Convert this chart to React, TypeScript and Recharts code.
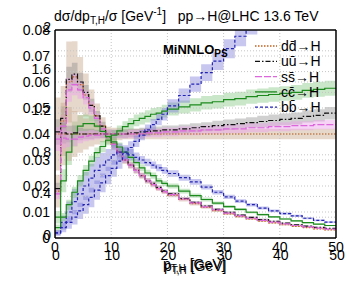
import React from 'react';
import { ComposedChart, Line, Area, XAxis, YAxis, ReferenceLine } from 'recharts';

// bin low edges (GeV): 1 GeV bins up to 20, then 2 GeV bins; last entry closes the final bin
const edges = [0, 1, 2, 3, 4, 5, 6, 7, 8, 9, 10, 11, 12, 13, 14, 15, 16, 17, 18, 19, 20,
  22, 24, 26, 28, 30, 32, 34, 36, 38, 40, 42, 44, 46, 48, 50];

// normalised distributions dσ/dpT/σ
const ddDist = [0.018, 0.045, 0.060, 0.062, 0.059, 0.055, 0.051, 0.047, 0.043, 0.039, 0.036, 0.033, 0.030, 0.028, 0.026, 0.024, 0.022, 0.0205, 0.019, 0.0178,
  0.0165, 0.0148, 0.0132, 0.0118, 0.0105, 0.0093, 0.0082, 0.0073, 0.0065, 0.0058, 0.0051, 0.0045, 0.0040, 0.0035, 0.0031];
const uuDist = [0.019, 0.046, 0.061, 0.063, 0.060, 0.056, 0.051, 0.047, 0.043, 0.039, 0.036, 0.033, 0.030, 0.028, 0.026, 0.024, 0.022, 0.021, 0.0195, 0.018,
  0.017, 0.0152, 0.0137, 0.0123, 0.011, 0.0099, 0.0088, 0.0079, 0.0071, 0.0064, 0.0057, 0.0051, 0.0046, 0.0041, 0.0037];
const ssDist = [0.017, 0.043, 0.057, 0.059, 0.057, 0.054, 0.050, 0.046, 0.042, 0.039, 0.036, 0.033, 0.030, 0.028, 0.026, 0.024, 0.022, 0.0205, 0.019, 0.0178,
  0.0167, 0.015, 0.0135, 0.012, 0.0108, 0.0096, 0.0085, 0.0076, 0.0068, 0.0061, 0.0054, 0.0048, 0.0043, 0.0038, 0.0034];
const ccDist = [0.008, 0.022, 0.033, 0.040, 0.043, 0.044, 0.044, 0.043, 0.041, 0.039, 0.037, 0.035, 0.033, 0.031, 0.029, 0.027, 0.025, 0.024, 0.022, 0.021,
  0.020, 0.018, 0.0163, 0.0148, 0.0134, 0.0121, 0.011, 0.0099, 0.009, 0.0081, 0.0073, 0.0066, 0.0059, 0.0053, 0.0048];
const bbDist = [0.002, 0.006, 0.010, 0.014, 0.017, 0.020, 0.023, 0.026, 0.028, 0.030, 0.032, 0.033, 0.033, 0.032, 0.031, 0.030, 0.029, 0.028, 0.027, 0.026,
  0.0248, 0.0232, 0.0216, 0.0196, 0.0176, 0.0158, 0.0142, 0.0128, 0.0115, 0.0104, 0.0094, 0.0085, 0.0076, 0.0068, 0.0061];

// ratios to dd̄ (second scale 0..2)
const ddRatio = [1, 1, 1, 1, 1, 1, 1, 1, 1, 1, 1, 1, 1, 1, 1, 1, 1, 1, 1, 1,
  1, 1, 1, 1, 1, 1, 1, 1, 1, 1, 1, 1, 1, 1, 1];
const uuRatio = [1.02, 1.01, 1.0, 1.01, 1.0, 1.0, 1.0, 1.0, 1.0, 1.0, 1.0, 1.0, 1.0, 1.01, 1.01, 1.02, 1.02, 1.03, 1.03, 1.04,
  1.04, 1.05, 1.06, 1.07, 1.08, 1.09, 1.1, 1.11, 1.12, 1.13, 1.14, 1.15, 1.17, 1.18, 1.2];
const ssRatio = [0.95, 0.96, 0.95, 0.95, 0.97, 0.98, 0.99, 0.99, 1.0, 1.0, 1.0, 1.0, 1.0, 1.0, 1.0, 1.0, 1.01, 1.01, 1.01, 1.02,
  1.02, 1.03, 1.03, 1.04, 1.04, 1.05, 1.05, 1.06, 1.06, 1.07, 1.07, 1.08, 1.08, 1.09, 1.09];
const ccRatio = [0.1, 0.2, 0.32, 0.44, 0.55, 0.65, 0.74, 0.82, 0.88, 0.94, 0.99, 1.03, 1.07, 1.1, 1.13, 1.15, 1.17, 1.19, 1.2, 1.22,
  1.24, 1.26, 1.28, 1.3, 1.31, 1.33, 1.34, 1.36, 1.37, 1.38, 1.39, 1.4, 1.42, 1.43, 1.44];
const bbRatio = [0.05, 0.1, 0.15, 0.2, 0.26, 0.32, 0.39, 0.46, 0.53, 0.6, 0.67, 0.74, 0.81, 0.87, 0.93, 0.99, 1.04, 1.09, 1.14, 1.19,
  1.27, 1.37, 1.48, 1.59, 1.7, 1.82, 1.94, 2.06, 2.18, null, null, null, null, null, null];

// relative size of the uncertainty bands
const ddErr = [0.35, 0.3, 0.26, 0.22, 0.18, 0.15, 0.12, 0.1, 0.08, 0.07, 0.06, 0.06, 0.05, 0.05, 0.05, 0.05, 0.05, 0.05, 0.05, 0.05,
  0.05, 0.05, 0.05, 0.05, 0.05, 0.05, 0.05, 0.05, 0.05, 0.05, 0.05, 0.05, 0.05, 0.05, 0.05];
const uuErr = [0.12, 0.1, 0.08, 0.07, 0.06, 0.05, 0.05, 0.04, 0.04, 0.04, 0.04, 0.04, 0.04, 0.04, 0.04, 0.04, 0.04, 0.04, 0.04, 0.04,
  0.04, 0.04, 0.04, 0.04, 0.045, 0.045, 0.045, 0.045, 0.05, 0.05, 0.05, 0.05, 0.05, 0.05, 0.05];
const ssErr = [0.12, 0.1, 0.08, 0.07, 0.06, 0.05, 0.05, 0.04, 0.04, 0.04, 0.04, 0.04, 0.04, 0.04, 0.04, 0.04, 0.04, 0.04, 0.04, 0.04,
  0.04, 0.04, 0.04, 0.04, 0.04, 0.04, 0.04, 0.04, 0.04, 0.04, 0.04, 0.04, 0.04, 0.04, 0.04];
const ccErr = [0.3, 0.2, 0.15, 0.12, 0.1, 0.08, 0.07, 0.06, 0.06, 0.05, 0.05, 0.05, 0.05, 0.05, 0.05, 0.05, 0.05, 0.05, 0.05, 0.05,
  0.05, 0.05, 0.05, 0.05, 0.05, 0.05, 0.05, 0.05, 0.05, 0.05, 0.05, 0.05, 0.05, 0.05, 0.05];
const bbErr = [0.5, 0.45, 0.4, 0.35, 0.3, 0.27, 0.24, 0.2, 0.17, 0.14, 0.12, 0.1, 0.08, 0.07, 0.06, 0.05, 0.05, 0.05, 0.05, 0.05,
  0.05, 0.05, 0.05, 0.05, 0.05, 0.05, 0.05, 0.05, 0.05, 0.05, 0.05, 0.05, 0.05, 0.05, 0.05];

const distTicks = [0, 0.01, 0.02, 0.03, 0.04, 0.05, 0.06, 0.07, 0.08];
const ratioTicks = [0, 0.4, 0.8, 1.2, 1.6, 2];
const xTicks = [0, 10, 20, 30, 40, 50];
const xMinor = [0, 2, 4, 6, 8, 10, 12, 14, 16, 18, 20, 22, 24, 26, 28, 30, 32, 34, 36, 38, 40, 42, 44, 46, 48, 50];
const distMinor = [0, 0.002, 0.004, 0.006, 0.008, 0.01, 0.012, 0.014, 0.016, 0.018, 0.02, 0.022, 0.024, 0.026, 0.028, 0.03,
  0.032, 0.034, 0.036, 0.038, 0.04, 0.042, 0.044, 0.046, 0.048, 0.05, 0.052, 0.054, 0.056, 0.058, 0.06, 0.062, 0.064,
  0.066, 0.068, 0.07, 0.072, 0.074, 0.076, 0.078, 0.08];
const ratioMinor = [0, 0.1, 0.2, 0.3, 0.4, 0.5, 0.6, 0.7, 0.8, 0.9, 1, 1.1, 1.2, 1.3, 1.4, 1.5, 1.6, 1.7, 1.8, 1.9, 2];
const distGrid = [0.01, 0.02, 0.03, 0.04, 0.05, 0.06, 0.07];
const ratioGrid = [0.2, 0.4, 0.6, 0.8, 1.0, 1.2, 1.4, 1.6, 1.8];
const xGrid = [10, 20, 30, 40];

const series = [
  { key: 'dd', label: 'dd̄→H', dist: ddDist, ratio: ddRatio, err: ddErr, color: '#c0621e', dash: '1.5 1.5', band: '#c9a98e', op: 0.45 },
  { key: 'uu', label: 'uū→H', dist: uuDist, ratio: uuRatio, err: uuErr, color: '#111111', dash: '5 2 1.5 2', band: '#8a8a8a', op: 0.4 },
  { key: 'ss', label: 'ss̄→H', dist: ssDist, ratio: ssRatio, err: ssErr, color: '#dd66dd', dash: '7 2', band: '#eaa0ea', op: 0.45 },
  { key: 'cc', label: 'cc̄→H', dist: ccDist, ratio: ccRatio, err: ccErr, color: '#1d8a1d', dash: undefined, band: '#66bb66', op: 0.35 },
  { key: 'bb', label: 'bb̄→H', dist: bbDist, ratio: bbRatio, err: bbErr, color: '#2424b4', dash: '3 2', band: '#7474d8', op: 0.4 },
];

const rows = edges.map((x, i) => {
  const b = Math.min(i, edges.length - 2);
  const row: any = { x };
  series.forEach((s) => {
    const d = s.dist[b];
    const r = s.ratio[b];
    const e = s.err[b];
    row[s.key + 'D'] = d;
    row[s.key + 'R'] = r;
    row[s.key + 'DB'] = [d * (1 - e), d * (1 + e)];
    row[s.key + 'RB'] = r == null ? null : [r * (1 - e), r * (1 + e)];
  });
  return row;
});

const font = '"Liberation Sans", Arial, sans-serif';
const tickStyle = { fontSize: 14, fill: '#000', fontFamily: font };
const gridStroke = { stroke: '#c4c4c4', strokeDasharray: '1 2', strokeWidth: 1 };
const thin = 0.01; // axes that only carry tick marks take no room
const black = { stroke: '#000' };
const frame = { stroke: '#000', strokeWidth: 1.5 };

const App: React.FC = () => {
  return (
    <div style={{ position: 'absolute', left: 0, top: 0, width: 357, height: 282, background: '#fff', fontFamily: font }}>
      <ComposedChart width={357} height={282} data={rows} margin={{ top: 30, right: 21, left: 55, bottom: 16 }}>
        <XAxis xAxisId="x" type="number" dataKey="x" domain={[0, 50]} ticks={xTicks} orientation="bottom" height={8} tickSize={4} tickMargin={0} tickLine={false} axisLine={frame} tick={tickStyle} />
        <XAxis xAxisId="x2" type="number" dataKey="x" domain={[0, 50]} ticks={xTicks} orientation="bottom" height={20} tickSize={4} tickMargin={0} tickLine={false} axisLine={false} tick={{ ...tickStyle, dx: 1 }} />
        <XAxis xAxisId="bMin" type="number" dataKey="x" domain={[0, 50]} ticks={xMinor} orientation="bottom" mirror height={thin} tick={false} tickSize={3} axisLine={false} tickLine={black} />
        <XAxis xAxisId="bMaj" type="number" dataKey="x" domain={[0, 50]} ticks={xTicks} orientation="bottom" mirror height={thin} tick={false} tickSize={6} axisLine={false} tickLine={black} />
        <XAxis xAxisId="tMin" type="number" dataKey="x" domain={[0, 50]} ticks={xMinor} orientation="top" mirror height={thin} tick={false} tickSize={3} axisLine={frame} tickLine={black} />
        <XAxis xAxisId="tMaj" type="number" dataKey="x" domain={[0, 50]} ticks={xTicks} orientation="top" mirror height={thin} tick={false} tickSize={6} axisLine={false} tickLine={black} />

        <YAxis yAxisId="d" type="number" domain={[0, 0.08]} ticks={distTicks} orientation="left" width={thin} tickSize={3} tickMargin={2} tickLine={false} axisLine={frame} tick={tickStyle} tickFormatter={(v: number) => (v === 0 ? '0' : v.toFixed(2))} allowDataOverflow />
        <YAxis yAxisId="r" type="number" domain={[0, 2]} ticks={ratioTicks} orientation="left" width={thin} tickSize={2} tickMargin={2} tickLine={false} axisLine={false} tick={{ ...tickStyle, dy: -3 }} tickFormatter={(v: number) => String(v)} allowDataOverflow />
        <YAxis yAxisId="dMin" type="number" domain={[0, 0.08]} ticks={distMinor} orientation="left" mirror width={thin} tick={false} tickSize={3} axisLine={false} tickLine={black} />
        <YAxis yAxisId="dMaj" type="number" domain={[0, 0.08]} ticks={distTicks} orientation="left" mirror width={thin} tick={false} tickSize={6} axisLine={false} tickLine={black} />
        <YAxis yAxisId="rMin" type="number" domain={[0, 2]} ticks={ratioMinor} orientation="right" mirror width={thin} tick={false} tickSize={3} axisLine={frame} tickLine={black} />
        <YAxis yAxisId="rMaj" type="number" domain={[0, 2]} ticks={ratioTicks} orientation="right" mirror width={thin} tick={false} tickSize={6} axisLine={false} tickLine={black} />

        {xGrid.map((v) => (
          <ReferenceLine key={'gx' + v} xAxisId="x" yAxisId="d" x={v} {...gridStroke} />
        ))}
        {distGrid.map((v) => (
          <ReferenceLine key={'gd' + v} xAxisId="x" yAxisId="d" y={v} {...gridStroke} />
        ))}
        {ratioGrid.map((v) => (
          <ReferenceLine key={'gr' + v} xAxisId="x" yAxisId="r" y={v} {...gridStroke} />
        ))}

        {series.map((s) => (
          <Area key={s.key + 'DB'} xAxisId="x" yAxisId="d" type="stepAfter" dataKey={s.key + 'DB'} stroke="none" fill={s.band} fillOpacity={s.op} isAnimationActive={false} />
        ))}
        {series.map((s) => (
          <Area key={s.key + 'RB'} xAxisId="x" yAxisId="r" type="stepAfter" dataKey={s.key + 'RB'} stroke="none" fill={s.band} fillOpacity={s.op} isAnimationActive={false} />
        ))}
        {series.map((s) => (
          <Line key={s.key + 'D'} xAxisId="x" yAxisId="d" type="stepAfter" dataKey={s.key + 'D'} stroke={s.color} strokeWidth={1.2} strokeDasharray={s.dash} dot={false} isAnimationActive={false} />
        ))}
        {series.map((s) => (
          <Line key={s.key + 'R'} xAxisId="x" yAxisId="r" type="stepAfter" dataKey={s.key + 'R'} stroke={s.color} strokeWidth={1.2} strokeDasharray={s.dash} dot={false} isAnimationActive={false} />
        ))}
      </ComposedChart>

      {/* title */}
      <div style={{ position: 'absolute', left: 54, top: 4, fontSize: 14, lineHeight: '16px', whiteSpace: 'nowrap', color: '#000' }}>
        dσ/dp<span style={{ fontSize: 10, verticalAlign: -3 }}>T,H</span>/σ [GeV<span style={{ fontSize: 10, verticalAlign: 6 }}>-1</span>]&nbsp;&nbsp;&nbsp;pp→H@LHC 13.6 TeV
      </div>

      {/* x axis title, drawn twice like the two overlaid frames */}
      {[0, 1].map((k) => (
        <div key={k} style={{ position: 'absolute', left: 163 + k, top: 256 + k * 2, fontSize: 14, lineHeight: '16px', whiteSpace: 'nowrap', color: '#000' }}>
          p<span style={{ fontSize: 10, verticalAlign: -3 }}>T,H</span> [GeV]
        </div>
      ))}

      {/* generator label */}
      <div style={{ position: 'absolute', left: 163, top: 42, fontSize: 13, fontWeight: 'bold', lineHeight: '16px', whiteSpace: 'nowrap', color: '#000' }}>
        MiNNLO<span style={{ fontSize: 10, verticalAlign: -3 }}>PS</span>
      </div>

      {/* legend */}
      <svg style={{ position: 'absolute', left: 0, top: 0 }} width={357} height={282}>
        {series.map((s, i) => {
          const y = 46 + i * 15.3;
          return (
            <g key={s.key}>
              <line x1={255} x2={277} y1={y} y2={y} stroke={s.color} strokeWidth={1.3} strokeDasharray={s.dash} />
              <text x={281} y={y + 5} fontSize={14} fontFamily={font} fill="#000">{s.label}</text>
            </g>
          );
        })}
      </svg>
    </div>
  );
};

export default App;
